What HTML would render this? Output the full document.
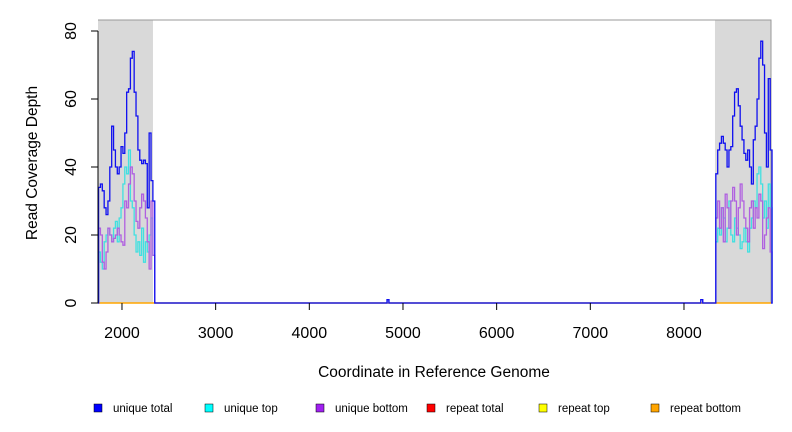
<!DOCTYPE html>
<html><head><meta charset="utf-8"><style>
html,body{margin:0;padding:0;background:#fff}
svg{display:block;font-family:"Liberation Sans",sans-serif}
</style></head><body>
<svg id="c" width="792" height="432"></svg>
<script>
const leftStart = 1750, rightStart = 8340, step = 20;
const leftTotal = [34,35,33,28,26,30,40,52,45,40,38,40,46,44,50,62,63,72,74,62,55,45,42,41,42,41,28,50,36,30];
const leftTop = [15,12,10,18,20,22,20,18,22,24,18,25,28,35,40,38,45,30,28,20,15,18,14,22,12,18,15,20,25,14];
const leftBottom = [22,20,12,10,15,22,20,18,19,20,22,20,18,17,30,28,35,40,38,30,24,22,28,32,30,25,18,10,30,14];
const rightTotal = [38,45,47,49,47,45,40,45,46,55,62,63,58,52,48,44,42,45,40,35,48,52,60,72,77,70,50,40,66,45];
const rightTop = [18,22,20,28,25,18,22,30,20,18,25,22,20,16,18,22,18,15,22,25,30,28,38,40,35,25,30,22,35,28];
const rightBottom = [25,30,22,28,18,32,28,22,30,34,30,20,28,35,30,25,22,18,28,30,22,28,25,32,30,16,20,25,28,15];
const blipStarts = [4830, 8180];
const blipValues = [1, 1];
const xTicks = [2000,3000,4000,5000,6000,7000,8000];
const yTicks = [0,20,40,60,80];
const shaded = [[1744,2331],[8331,8929]];
const legendLabels = ["unique total","unique top","unique bottom","repeat total","repeat top","repeat bottom"];
const legendColors = ["#0000ff","#00ffff","#a020f0","#ff0000","#ffff00","#ffa500"];

const svg = document.getElementById('c');
const NS = 'http://www.w3.org/2000/svg';
const X0=1744, X1=8929, PX0=98, PX1=771;
const sx = v => PX0 + (v-X0)*(PX1-PX0)/(X1-X0);
const sy = v => 303 - v*3.4;
function mk(tag, attrs, parent){const e=document.createElementNS(NS,tag);for(const k in attrs)e.setAttribute(k,attrs[k]);(parent||svg).appendChild(e);return e;}

shaded.forEach(r=>{
  const e=mk('rect',{x:sx(r[0]),y:20,width:sx(r[1])-sx(r[0]),height:283,fill:'#d9d9d9'});
  
  
});
const fr=mk('path',{d:`M${PX0} 20H${PX1}V303`,stroke:'#999',fill:'none'});



function seriesPath(lv, rv){
  let pts=[[X0,0]];
  const add=(start,vals)=>{vals.forEach((v,i)=>{const x=start+i*step;pts.push([x,pts[pts.length-1][1]]);pts.push([x,v]);});const e=start+vals.length*step;pts.push([e,pts[pts.length-1][1]]);pts.push([e,0]);};
  if(lv) add(leftStart,lv);
  blipStarts.forEach((b,i)=>add(b,[blipValues[i]]));
  if(rv) add(rightStart,rv);
  pts.push([X1,pts[pts.length-1][1]]);
  return pts.map((p,i)=>(i?'L':'M')+sx(p[0]).toFixed(2)+' '+sy(p[1]).toFixed(2)).join('');
}
const rb=mk('line',{x1:PX0,x2:PX1,y1:sy(0),y2:sy(0),stroke:'#ffa500',"stroke-width":1.5});


[[leftTop,rightTop,'#40e0e0','series-unique-top'],[leftBottom,rightBottom,'#b060e0','series-unique-bottom'],[leftTotal,rightTotal,'#1010f0','series-unique-total']].forEach(s=>{
  const e=mk('path',{d:seriesPath(s[0],s[1]),stroke:s[2],fill:'none',"stroke-width":1.3});
  
  
});

const ya=mk('line',{x1:PX0,x2:PX0,y1:sy(0),y2:sy(80),stroke:'#000'});


yTicks.forEach(t=>{
  mk('line',{x1:PX0-7,x2:PX0,y1:sy(t),y2:sy(t),stroke:'#000'});
  const tx=mk('text',{x:0,y:0,"font-size":16,"text-anchor":"middle",transform:`translate(76,${sy(t)}) rotate(-90)`});
  tx.textContent=t;
  
  
});
xTicks.forEach(t=>{
  mk('line',{x1:sx(t),x2:sx(t),y1:303,y2:310,stroke:'#000'});
  const tx=mk('text',{x:sx(t),y:338,"font-size":16,"text-anchor":"middle"});
  tx.textContent=t;
  
  
});
const xt=mk('text',{x:434,y:377,"font-size":15.5,"text-anchor":"middle"});
xt.textContent='Coordinate in Reference Genome';


const yt=mk('text',{x:0,y:0,"font-size":15.5,"text-anchor":"middle",transform:'translate(37,163) rotate(-90)'});
yt.textContent='Read Coverage Depth';



const lx=[94,205,316,427,539,651];
legendLabels.forEach((l,i)=>{
  const g=mk('g',{});
  
  
  mk('rect',{x:lx[i],y:404,width:8,height:8,fill:legendColors[i],stroke:'#000',"stroke-width":0.5},g);
  const t=mk('text',{x:lx[i]+19,y:412,"font-size":11.5},g);
  t.textContent=l;
});
</script>
</body></html>
